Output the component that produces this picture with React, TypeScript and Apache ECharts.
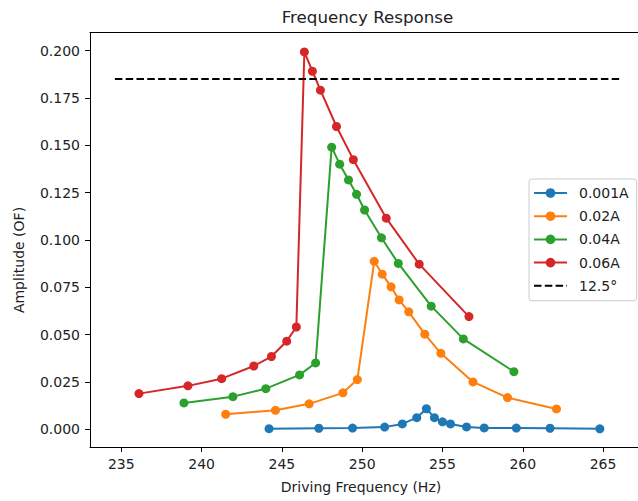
import React, { useEffect, useRef } from "react";
import * as echarts from "echarts";

const seriesNames = ["0.001A", "0.02A", "0.04A", "0.06A"];
const hlineName = "12.5°";

const freq001 = [244.2, 247.3, 249.4, 251.4, 252.5, 253.4, 254.0, 254.5, 255.0, 255.5, 256.5, 257.6, 259.6, 261.7, 264.8];
const amp001 = [0.0003, 0.0005, 0.0006, 0.0011, 0.0028, 0.0061, 0.0108, 0.0061, 0.0039, 0.0028, 0.0012, 0.0007, 0.0006, 0.0005, 0.0002];

const freq002 = [241.5, 244.6, 246.7, 248.8, 249.7, 250.75, 251.25, 251.8, 252.3, 252.9, 253.9, 254.9, 256.9, 259.05, 262.1];
const amp002 = [0.0079, 0.01, 0.0134, 0.0192, 0.0262, 0.0887, 0.0819, 0.0752, 0.0683, 0.062, 0.0502, 0.0401, 0.025, 0.0167, 0.0107];

const freq004 = [238.9, 241.95, 244.0, 246.1, 247.1, 248.1, 248.6, 249.15, 249.65, 250.15, 251.2, 252.25, 254.3, 256.3, 259.45];
const amp004 = [0.0139, 0.0172, 0.0214, 0.0287, 0.035, 0.149, 0.14, 0.1317, 0.1241, 0.1158, 0.1011, 0.0876, 0.065, 0.0477, 0.0304];

const freq006 = [236.1, 239.15, 241.25, 243.25, 244.35, 245.3, 245.9, 246.4, 246.9, 247.4, 248.4, 249.45, 251.5, 253.55, 256.65];
const amp006 = [0.0188, 0.0229, 0.0267, 0.0334, 0.0384, 0.0465, 0.054, 0.1993, 0.1891, 0.1791, 0.1599, 0.1424, 0.1115, 0.0872, 0.0595];

const hlineX = [234.6, 266.2];
const hlineY = 0.185;

const xTicks = [235, 240, 245, 250, 255, 260, 265];
const yTicks = [0, 0.025, 0.05, 0.075, 0.1, 0.125, 0.15, 0.175, 0.2];

const colors = ["#1f77b4", "#ff7f0e", "#2ca02c", "#d62728"];
const FONT = "DejaVu Sans";
const TXT = "#222";
const X_MIN = 233.05;
const X_MAX = 267.8;

const zip = (xs: number[], ys: number[]) => xs.map((x, i) => [x, ys[i]]);

export default function App() {
  const ref = useRef<HTMLDivElement>(null);
  useEffect(() => {
    document.body.style.margin = "0";
    const chart = echarts.init(ref.current!, null, { renderer: "svg", width: 670, height: 501 });
    const freqs = [freq001, freq002, freq004, freq006];
    const amps = [amp001, amp002, amp004, amp006];
    const lineSeries: any[] = seriesNames.map((name, i) => ({
      name,
      type: "line",
      data: zip(freqs[i], amps[i]),
      symbol: "circle",
      symbolSize: 9,
      showSymbol: true,
      color: colors[i],
      lineStyle: { width: 2, color: colors[i] },
      itemStyle: { color: colors[i] },
      z: 2 + i,
    }));
    lineSeries.push({
      name: hlineName,
      type: "line",
      data: hlineX.map((x) => [x, hlineY]),
      symbol: "none",
      color: "#000",
      lineStyle: { width: 2, color: "#000", type: [7.5, 3.3] },
      z: 10,
    });
    chart.setOption({
      animation: false,
      backgroundColor: "#fff",
      textStyle: { fontFamily: FONT },
      grid: {
        left: 90,
        top: 33,
        width: 558,
        height: 414,
        show: false,
      },
      xAxis: {
        type: "value",
        min: X_MIN,
        max: X_MAX,
        splitLine: { show: false },
        axisLine: { show: true, onZero: false, lineStyle: { color: "#000", width: 1 } },
        axisTick: { show: true, customValues: xTicks, length: 5, lineStyle: { color: "#000" } },
        axisLabel: {
          customValues: xTicks,
          margin: 10,
          fontSize: 14,
          color: TXT,
          fontFamily: FONT,
          formatter: (v: number) => String(v),
        },
      },
      yAxis: {
        type: "value",
        min: -0.0094,
        max: 0.2093,
        splitLine: { show: false },
        axisLine: { show: true, onZero: false, lineStyle: { color: "#000", width: 1 } },
        axisTick: { show: true, customValues: yTicks, length: 5, lineStyle: { color: "#000" } },
        axisLabel: {
          customValues: yTicks,
          margin: 10,
          fontSize: 14,
          color: TXT,
          fontFamily: FONT,
          formatter: (v: number) => v.toFixed(3),
        },
      },
      legend: {
        orient: "vertical",
        left: 529,
        top: 179,
        data: [
          ...seriesNames,
          { name: hlineName, itemStyle: { color: "rgba(0,0,0,0)", opacity: 0, borderWidth: 0 } },
        ],
        itemWidth: 33,
        itemHeight: 12,
        itemGap: 9.2,
        padding: [7, 8, 8, 4],
        backgroundColor: "#fff",
        borderColor: "#ccc",
        borderWidth: 1,
        borderRadius: 3,
        textStyle: { fontSize: 14, color: TXT, fontFamily: FONT, lineHeight: 14, padding: [0, 0, 0, 7] },
      },
      graphic: [
        {
          type: "line",
          shape: { x1: 89.5, y1: 32.5, x2: 670, y2: 32.5 },
          style: { stroke: "#000", lineWidth: 1 },
          z: 1,
        },
        {
          type: "text",
          x: 367.5,
          y: 17,
          style: { text: "Frequency Response", font: `16.7px '${FONT}'`, fill: TXT, textAlign: "center", textVerticalAlign: "middle" },
        },
        {
          type: "text",
          x: 361,
          y: 487,
          style: { text: "Driving Frequency (Hz)", font: `14px '${FONT}'`, fill: TXT, textAlign: "center", textVerticalAlign: "middle" },
        },
        {
          type: "text",
          x: 19,
          y: 260,
          rotation: Math.PI / 2,
          style: { text: "Amplitude (OF)", font: `14px '${FONT}'`, fill: TXT, textAlign: "center", textVerticalAlign: "middle" },
        },
      ],
      series: lineSeries,
    });
    return () => chart.dispose();
  }, []);
  return (
    <div style={{ width: 638, height: 501, position: "absolute", left: 0, top: 0, overflow: "hidden" }}>
      <div ref={ref} style={{ width: 670, height: 501 }} />
    </div>
  );
}
